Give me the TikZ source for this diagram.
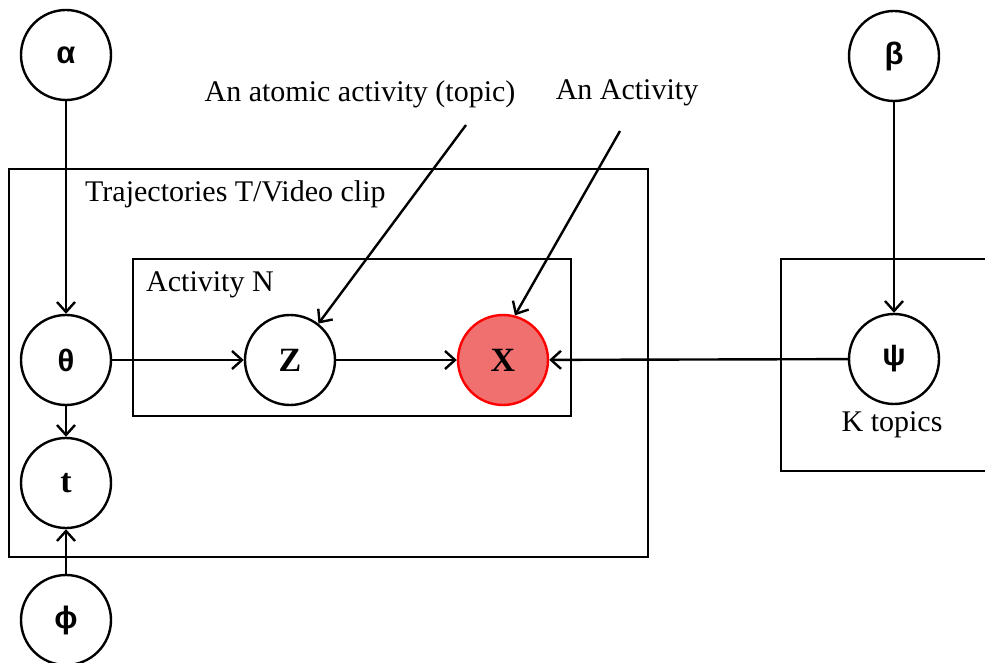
\documentclass[tikz,border=0pt]{standalone}
\usepackage{fontspec}
\setmainfont{Liberation Serif}
\newfontfamily\grkfont{Liberation Sans}
\usetikzlibrary{arrows.meta}
\definecolor{obsred}{HTML}{F07070}
\begin{document}
\begin{tikzpicture}[x=0.5pt,y=-0.5pt,line width=1.2pt,>={Straight Barb[length=5pt,width=9pt]},
	var/.style={circle,draw,fill=white,minimum size=45pt,inner sep=0pt},
	grk/.style={var,font=\grkfont\bfseries\fontsize{15.5}{18}\selectfont},
	rv/.style={var,font=\bfseries\fontsize{17}{20}\selectfont},
	obs/.style={rv,draw=red,fill=obsred},
	lbl/.style={font=\fontsize{15}{18}\selectfont,inner sep=0pt}]
	\useasboundingbox (0,0) rectangle (985,663);
	% plates
	\draw (9,169) rectangle (648,557);
	\draw (133,259) rectangle (571,416);
	\draw (990,259) -| (781,471) -- (990,471);
	\node[lbl,anchor=west] (trajlbl) at (84,194) {Trajectories T/Video clip};
	\node[lbl,anchor=west] (actlbl) at (145,285) {Activity N};
	\node[lbl] (klbl) at (892,425) {K topics};
	% variables
	\node[grk] (alpha) at (66,55) {α};
	\node[grk] (theta) at (66,360) {θ};
	\node[rv] (t) at (66,483) {t};
	\node[grk] (phi) at (66,620) {ϕ};
	\node[rv] (z) at (290,360) {Z};
	\node[obs] (x) at (503,360) {X};
	\node[grk] (beta) at (894,56) {β};
	\node[grk] (psi) at (894,359) {ψ};
	% edges
	\draw[->] (alpha) -- (theta);
	\draw[->] (theta) -- (t);
	\draw[->] (phi) -- (t);
	\draw[->] (theta) -- (z);
	\draw[->] (z) -- (x);
	\draw[->] (beta) -- (psi);
	\draw[->] (psi) -- (x);
	% annotations
	\node[lbl] (topiclbl) at (360,94) {An atomic activity (topic)};
	\node[lbl] (activitylbl) at (627,93) {An Activity};
	\coordinate (topictail) at (466,125);
	\coordinate (activitytail) at (620,131);
	\draw[->] (topictail) -- (z.52);
	\draw[->] (activitytail) -- (x.75);
\end{tikzpicture}
\end{document}
